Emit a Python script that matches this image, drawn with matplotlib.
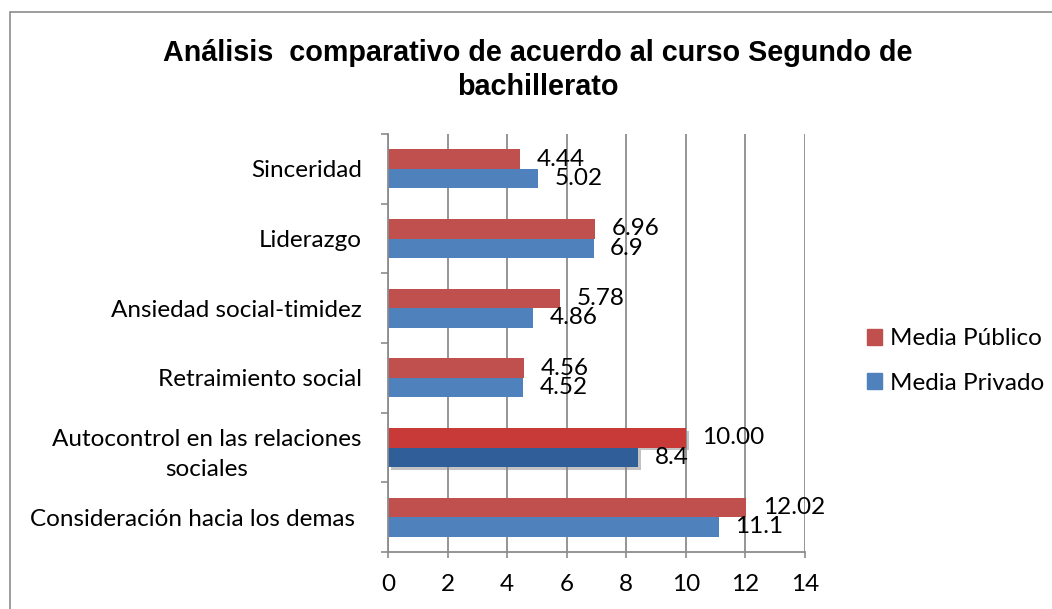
import matplotlib
matplotlib.use("Agg")
import matplotlib.pyplot as plt
from matplotlib.patches import Rectangle
import matplotlib.patheffects as pe
import numpy as np

categories = ["Consideración hacia los demas ", "Autocontrol en las relaciones\nsociales",
              "Retraimiento social", "Ansiedad social-timidez", "Liderazgo", "Sinceridad"]
publico = [12.02, 10.00, 4.56, 5.78, 6.96, 4.44]
privado = [11.1, 8.4, 4.52, 4.86, 6.9, 5.02]
publico_labels = ["12.02", "10.00", "4.56", "5.78", "6.96", "4.44"]
privado_labels = ["11.1", "8.4", "4.52", "4.86", "6.9", "5.02"]
xticks = [0, 2, 4, 6, 8, 10, 12, 14]
title = "Análisis  comparativo de acuerdo al curso Segundo de\nbachillerato"

W, H = 1052, 609
fig = plt.figure(figsize=(W / 100, H / 100), dpi=100)
fig.patches.append(Rectangle((10 / W, -0.2), 2, 1.2 - 12 / H, transform=fig.transFigure,
                             fill=False, edgecolor="#8c8c8c", linewidth=1.2))

ax = fig.add_axes([388 / W, (H - 552) / H, (805 - 388) / W, (552 - 134) / H])
font = "Lato"
fs = 17.5
red = "#C0504D"
blue = "#4F81BD"
red_colors = [red, "#C83A37", red, red, red, red]
blue_colors = [blue, "#2F5E99", blue, blue, blue, blue]

y = np.arange(len(categories))
h = 0.28
bars_r = ax.barh(y + h / 2, publico, height=h, color=red_colors, zorder=3, label="Media Público")
bars_b = ax.barh(y - h / 2, privado, height=h, color=blue_colors, zorder=3, label="Media Privado")
for b in (bars_r[1], bars_b[1]):
    b.set_path_effects([pe.SimplePatchShadow(offset=(2, -2), shadow_rgbFace="#888888", alpha=0.5), pe.Normal()])

for i in range(len(categories)):
    ax.annotate(publico_labels[i], (publico[i], y[i] + h / 2), xytext=(12, 0), textcoords="offset points",
                va="center", ha="left", fontsize=fs, family=font)
    ax.annotate(privado_labels[i], (privado[i], y[i] - h / 2), xytext=(12, 0), textcoords="offset points",
                va="center", ha="left", fontsize=fs, family=font)

ax.set_xlim(0, 14)
ax.set_ylim(-0.5, len(categories) - 0.5)
ax.set_xticks(xticks)
ax.set_xticklabels([str(t) for t in xticks], fontsize=fs, family=font)
ax.set_yticks(y)
ax.set_yticklabels(categories, fontsize=fs, family=font, multialignment="center", linespacing=1.55)
ax.set_yticks(np.arange(-0.5, len(categories)), minor=True)
ax.tick_params(axis="y", which="major", length=0, pad=19)
ax.tick_params(axis="y", which="minor", length=5, color="#8c8c8c", width=1.2)
ax.tick_params(axis="x", which="major", length=4, color="#8c8c8c", width=1.2, pad=12)
ax.grid(axis="x", color="#8c8c8c", linewidth=1.3, zorder=0)
ax.set_axisbelow(True)
for s in ("top", "right"):
    ax.spines[s].set_visible(False)
for s in ("left", "bottom"):
    ax.spines[s].set_color("#8c8c8c")
    ax.spines[s].set_linewidth(1.3)
    ax.spines[s].set_zorder(4)

fig.text(538 / W, 1 - 70 / H, title, ha="center", va="center", fontsize=20.7, fontweight="bold",
         family="Liberation Sans", linespacing=1.3)

handles = [bars_r[0], bars_b[0]]
leg = fig.legend(handles, ["Media Público", "Media Privado"], loc="center left",
                 bbox_to_anchor=(857 / W, 1 - 361 / H), frameon=False, prop={"family": font, "size": fs},
                 handlelength=0.62, handleheight=0.62, handletextpad=0.35, labelspacing=0.95, borderaxespad=0)
leg.legend_handles[0].set_color(red)
leg.legend_handles[1].set_color(blue)

fig.savefig("out.png", dpi=100)
